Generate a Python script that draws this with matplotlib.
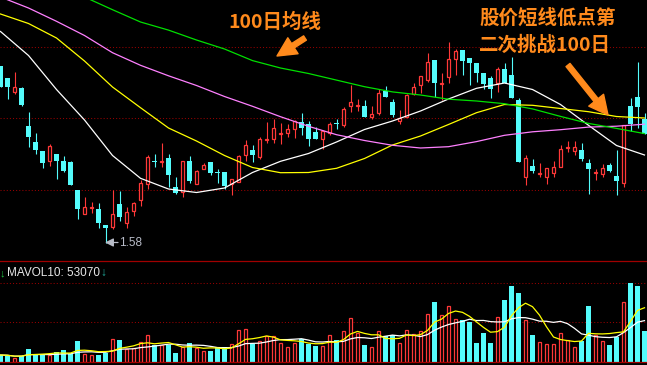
import numpy as np
import pandas as pd
import matplotlib
matplotlib.use('Agg')
import matplotlib.pyplot as plt

W, H = 647, 365

# daily candles (price), oldest first
opens = [3.35, 3.23, 3.09, 3.13, 2.75, 2.59, 2.50, 2.40, 2.47, 2.40,
         2.39, 2.11, 1.87, 1.935, 1.92, 1.76, 1.74, 1.97, 1.78, 1.90,
         2.01, 2.17, 2.40, 2.395, 2.43, 2.14, 2.09, 2.40, 2.17, 2.32,
         2.39, 2.29, 2.29, 2.17, 2.19, 2.46, 2.51, 2.44, 2.615, 2.62,
         2.675, 2.68, 2.72, 2.79, 2.77, 2.69, 2.62, 2.68, 2.78, 2.76,
         2.95, 2.955, 2.95, 2.84, 2.88, 3.10, 2.99, 2.80, 2.84, 3.07,
         3.16, 3.21, 3.41, 3.175, 3.24, 3.42, 3.51, 3.43, 3.38, 3.28,
         3.23, 3.18, 3.32, 3.26, 3.01, 2.24, 2.35, 2.275, 2.24, 2.28,
         2.34, 2.535, 2.50, 2.51, 2.38, 2.285, 2.27, 2.36, 2.25, 2.18,
         2.95, 3.04, 2.82]
highs = [3.35, 3.23, 3.29, 3.14, 2.89, 2.68, 2.50, 2.57, 2.47, 2.45,
         2.40, 2.11, 2.04, 1.99, 1.98, 1.76, 2.11, 2.10, 1.94, 1.99,
         2.21, 2.46, 2.47, 2.58, 2.47, 2.24, 2.40, 2.45, 2.31, 2.38,
         2.39, 2.32, 2.29, 2.22, 2.46, 2.61, 2.56, 2.64, 2.79, 2.82,
         2.78, 2.77, 2.81, 2.88, 2.80, 2.74, 2.71, 2.79, 2.82, 2.94,
         3.16, 3.02, 3.01, 2.95, 3.12, 3.15, 3.02, 2.91, 3.07, 3.18,
         3.25, 3.48, 3.41, 3.28, 3.59, 3.52, 3.51, 3.43, 3.38, 3.28,
         3.25, 3.34, 3.38, 3.44, 3.03, 2.46, 2.42, 2.38, 2.33, 2.40,
         2.56, 2.60, 2.60, 2.58, 2.42, 2.32, 2.37, 2.38, 2.51, 2.76,
         3.03, 3.39, 2.88]
lows = [3.14, 3.02, 3.07, 2.95, 2.54, 2.47, 2.33, 2.35, 2.22, 2.29,
        2.16, 1.82, 1.87, 1.88, 1.73, 1.58, 1.72, 1.80, 1.73, 1.85,
        1.95, 2.12, 2.34, 2.34, 2.14, 2.07, 2.04, 2.18, 2.17, 2.32,
        2.26, 2.18, 2.12, 2.06, 2.19, 2.40, 2.39, 2.42, 2.58, 2.58,
        2.57, 2.64, 2.63, 2.66, 2.55, 2.62, 2.52, 2.66, 2.72, 2.74,
        2.89, 2.90, 2.84, 2.82, 2.86, 3.04, 2.84, 2.77, 2.84, 3.06,
        3.08, 3.19, 3.04, 3.01, 3.18, 3.26, 3.26, 3.16, 3.19, 3.12,
        3.03, 3.09, 3.18, 3.03, 2.39, 2.16, 2.28, 2.24, 2.17, 2.24,
        2.34, 2.49, 2.46, 2.40, 2.07, 2.21, 2.24, 2.29, 2.06, 2.14,
        2.70, 2.73, 2.67]
closes = [3.14, 3.14, 3.14, 2.96, 2.64, 2.51, 2.38, 2.55, 2.40, 2.30,
          2.16, 1.92, 1.94, 1.94, 1.78, 1.73, 1.87, 1.84, 1.89, 1.98,
          2.18, 2.44, 2.395, 2.40, 2.26, 2.08, 2.40, 2.20, 2.30, 2.36,
          2.28, 2.285, 2.15, 2.22, 2.45, 2.56, 2.46, 2.62, 2.62, 2.73,
          2.68, 2.72, 2.80, 2.73, 2.62, 2.62, 2.70, 2.77, 2.775, 2.92,
          2.99, 2.96, 2.84, 2.87, 3.08, 3.04, 2.86, 2.83, 3.06, 3.14,
          3.25, 3.39, 3.18, 3.18, 3.42, 3.50, 3.40, 3.38, 3.28, 3.17,
          3.12, 3.32, 3.18, 3.03, 2.39, 2.43, 2.30, 2.28, 2.33, 2.34,
          2.52, 2.54, 2.54, 2.42, 2.32, 2.29, 2.33, 2.30, 2.20, 2.76,
          2.77, 2.94, 2.67]
volumes = [9100, 8450, 5200, 7800, 16900, 10400, 10400, 8700, 13000, 15600,
           10400, 27300, 10400, 9500, 9500, 11300, 29900, 28600, 16900, 18200,
           26000, 35100, 22100, 21700, 21700, 11300, 19900, 25100, 18200, 14700,
           13900, 19100, 19900, 23400, 41600, 42900, 23400, 27700, 33800, 33800,
           25100, 19900, 25100, 29500, 23400, 20800, 20800, 34500, 29000, 40300,
           57600, 37300, 21700, 19900, 40300, 33800, 35500, 24300, 41600, 36400,
           39900, 62800, 78400, 61100, 73200, 55900, 54200, 52400, 24700, 37700,
           24700, 58100, 81000, 99200, 89700, 54200, 35500, 26000, 23400, 23400,
           37700, 28600, 19900, 26900, 73200, 34700, 27700, 22500, 32900, 78000,
           102700, 99200, 39900]

# moving averages every 4 sessions
ma_idx = list(range(0, 93, 4))
ma_white = [3.695, 3.455, 3.115, 2.81, 2.455, 2.227, 2.12, 2.085, 2.13, 2.285,
            2.397, 2.475, 2.59, 2.715, 2.80, 2.90, 3.02, 3.127, 3.18, 3.115,
            2.965, 2.757, 2.555, 2.46]
ma_yellow = [3.87, 3.775, 3.63, 3.40, 3.14, 2.933, 2.73, 2.60, 2.455, 2.335,
             2.283, 2.285, 2.327, 2.425, 2.56, 2.65, 2.765, 2.883, 2.965, 2.957,
             2.925, 2.893, 2.845, 2.83]
ma_pink = [4.04, 3.93, 3.797, 3.655, 3.483, 3.357, 3.252, 3.155, 3.045, 2.947,
           2.843, 2.747, 2.663, 2.605, 2.557, 2.53, 2.543, 2.594, 2.657, 2.692,
           2.713, 2.739, 2.748, 2.768]
ma100_idx = list(range(12, 93, 4))
ma100 = [4.04, 3.913, 3.79, 3.709, 3.61, 3.52, 3.404, 3.33, 3.275, 3.209,
         3.143, 3.091, 3.06, 3.018, 3.00, 2.973, 2.921, 2.846, 2.776, 2.726,
         2.674]

grid_price = [3.537, 2.827, 2.11]
grid_vol = [52000, 102700]

RED = '#FF3838'
CYAN = '#54FCFC'
GRID = '#960000'
ORANGE = '#FF8A1C'
CJK = ['Noto Sans CJK SC', 'DejaVu Sans']
LAT = ['Liberation Sans', 'DejaVu Sans']


def fp(x, y):
    return x / W, 1 - y / H


fig = plt.figure(figsize=(W / 100, H / 100), dpi=100, facecolor='black')
ax = fig.add_axes([0, 1 - 261 / H, 1, 261 / H])
axv = fig.add_axes([0, 1 - 362 / H, 1, 101 / H])
for a in (ax, axv):
    a.set_facecolor('black')
    a.set_xlim(-0.5 / 7, 646.5 / 7)
    a.set_xticks([])
    a.set_yticks([])
    for s in a.spines.values():
        s.set_visible(False)
for side in ('top', 'bottom'):
    axv.spines[side].set_visible(True)
    axv.spines[side].set_color('#A00000')
    axv.spines[side].set_linewidth(0.9)

ax.set_ylim(1.40, 4.01)
axv.set_ylim(0, 131300)

for g in grid_price:
    ax.axhline(g, color=GRID, lw=0.75, ls=(0, (1, 2)), zorder=0)
for g in grid_vol:
    axv.axhline(g, color=GRID, lw=0.75, ls=(0, (1, 2)), zorder=0)

o, hi, lo, c = map(np.array, (opens, highs, lows, closes))
x = np.arange(len(o))
up = c >= o
dn = ~up
top = np.maximum(o, c)
bot = np.minimum(o, c)
body = np.maximum(top - bot, 0.008)

# candles
ax.vlines(x[dn], lo[dn], hi[dn], color=CYAN, lw=0.8, zorder=2)
ax.bar(x[dn], body[dn], bottom=bot[dn], width=0.68, color=CYAN, lw=0, zorder=2)
ax.vlines(x[up], top[up], hi[up], color=RED, lw=0.8, zorder=2)
ax.vlines(x[up], lo[up], bot[up], color=RED, lw=0.8, zorder=2)
ax.bar(x[up], body[up], bottom=bot[up], width=0.56, facecolor='black',
       edgecolor=RED, lw=0.9, zorder=2)

# moving averages
ax.plot(ma_idx, ma_white, color='white', lw=0.9, zorder=3)
ax.plot(ma_idx, ma_yellow, color='#FFFF00', lw=0.9, zorder=3)
ax.plot(ma_idx, ma_pink, color='#FF80FF', lw=0.9, zorder=3)
ax.plot(ma100_idx, ma100, color='#00E000', lw=0.9, zorder=3)

# volume
v = np.array(volumes)
axv.bar(x[dn], v[dn], width=0.68, color=CYAN, lw=0, zorder=2)
axv.bar(x[up], v[up], width=0.56, facecolor='black', edgecolor=RED, lw=0.9, zorder=2)
vs = pd.Series(volumes)
axv.plot(x, vs.rolling(10, min_periods=1).mean(), color='white', lw=0.9, zorder=3)
axv.plot(x, vs.rolling(5, min_periods=1).mean(), color='#FFFF00', lw=0.9, zorder=3)

# labels
fig.text(*fp(0, 273), '↓', color='#20C040', fontsize=8, va='center', family=LAT)
fig.text(*fp(7, 273), 'MAVOL10: 53070', color='#E8E8E8', fontsize=8.5,
         va='center', family=LAT)
fig.text(*fp(100.5, 273), '↓', color='#20B0A0', fontsize=8.5, va='center', family=LAT)

ax.annotate('', xy=fp(105, 242.5), xytext=fp(118, 242.5),
            xycoords='figure fraction', textcoords='figure fraction',
            arrowprops=dict(arrowstyle='-|>,head_length=0.5,head_width=0.25',
                            color='#B8BCC8', lw=0.9, shrinkA=0, shrinkB=0))
fig.text(*fp(119.5, 242.5), '1.58', color='#B8BCC8', fontsize=8.5,
         va='center', family=LAT)

fig.text(*fp(228, 22), '100日均线', color=ORANGE, fontsize=14,
         fontweight='bold', va='center', family=CJK)
fig.text(*fp(479, 18.5), '股价短线低点第', color=ORANGE, fontsize=14,
         fontweight='bold', va='center', family=CJK)
fig.text(*fp(479, 45), '二次挑战100日', color=ORANGE, fontsize=14,
         fontweight='bold', va='center', family=CJK)

arrow = dict(arrowstyle='simple,head_length=1.3,head_width=1.3,tail_width=0.35',
             color=ORANGE, shrinkA=0, shrinkB=0, mutation_scale=10.5)
ax.annotate('', xy=fp(277, 56), xytext=fp(305, 38), xycoords='figure fraction',
            textcoords='figure fraction', arrowprops=arrow)
ax.annotate('', xy=fp(608, 115), xytext=fp(568, 65), xycoords='figure fraction',
            textcoords='figure fraction', arrowprops=arrow)

fig.savefig('out.png', dpi=100, facecolor='black')
